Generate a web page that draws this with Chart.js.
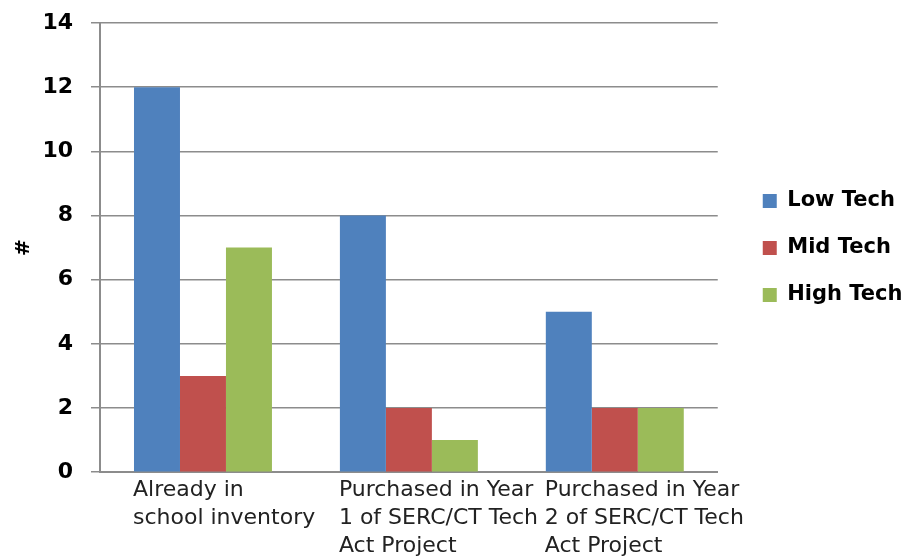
<!DOCTYPE html>
<html>
<head>
<meta charset="utf-8">
<script src="https://cdn.jsdelivr.net/npm/chart.js@4/dist/chart.umd.min.js"></script>
<style>
  html, body { margin: 0; padding: 0; background: #fff; }
  #wrap { width: 906px; height: 558px; }
</style>
</head>
<body>
<div id="wrap"><canvas id="chart"></canvas></div>
<script>
// categories and series
const categories = [
  ['Already in', 'school inventory'],
  ['Purchased in Year', '1 of SERC/CT Tech', 'Act Project'],
  ['Purchased in Year', '2 of SERC/CT Tech', 'Act Project'],
];
const lowTech = [12, 8, 5];
const midTech = [3, 2, 2];
const highTech = [7, 1, 2];
const seriesNames = ['Low Tech', 'Mid Tech', 'High Tech'];
const yTicks = [0, 2, 4, 6, 8, 10, 12, 14];

const colors = ['#4F81BD', '#C0504D', '#9BBB59'];
const gridGray = '#8C8C8C';
const fontFamily = "'DejaVu Sans', sans-serif";

const ctx = document.getElementById('chart').getContext('2d');
const chart = new Chart(ctx, {
  type: 'bar',
  data: {
    labels: categories,
    datasets: [lowTech, midTech, highTech].map((data, i) => ({
      label: seriesNames[i],
      data: data,
      backgroundColor: colors[i],
      borderWidth: 0,
      categoryPercentage: 0.67,
      barPercentage: 1.0,
    })),
  },
  options: {
    responsive: true,
    maintainAspectRatio: false,
    animation: false,
    layout: {
      padding: { top: 10, right: -6.5, left: 8, bottom: -6 },
    },
    plugins: {
      legend: {
        position: 'right',
        align: 'start',
        // empty title only used to push the items down to mid height
        title: { display: true, text: '', font: { size: 12 }, padding: { top: 0, bottom: 140 } },
        labels: {
          boxWidth: 14,
          boxHeight: 14,
          padding: 26,
          color: '#000',
          font: { family: fontFamily, size: 21, weight: 'bold' },
        },
      },
      tooltip: { enabled: false },
    },
    scales: {
      x: {
        grid: { display: false, drawTicks: false },
        border: { color: gridGray, width: 2 },
        ticks: {
          align: 'start',
          labelOffset: -70, // left-aligned labels start a bit before the category centre
          padding: 4,
          color: '#222',
          maxRotation: 0,
          autoSkip: false,
          font: { family: fontFamily, size: 22, lineHeight: 1.27 },
        },
      },
      y: {
        min: 0,
        max: 14,
        afterBuildTicks: (scale) => {
          scale.ticks = yTicks.map(v => ({ value: v }));
        },
        grid: { color: gridGray, lineWidth: 1.5, tickLength: 9 },
        border: { color: gridGray, width: 2 },
        ticks: {
          color: '#000',
          padding: 18,
          font: { family: fontFamily, size: 22, weight: 'bold', lineHeight: 0.45 },
        },
        title: {
          display: true,
          text: '#',
          color: '#000',
          padding: { top: 4, bottom: -11.6 },
          font: { family: fontFamily, size: 20, weight: 'bold' },
        },
      },
      // hidden axis that only keeps a gap between plot and legend
      gap: {
        type: 'linear',
        position: 'right',
        display: false,
        afterFit: (scale) => { scale.width = 19; },
      },
    },
  },
});
</script>
</body>
</html>
